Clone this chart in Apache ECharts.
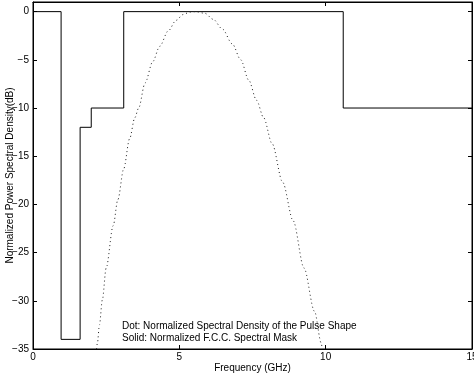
<!DOCTYPE html>
<html>
<head>
<meta charset="utf-8">
<script src="https://cdn.jsdelivr.net/npm/echarts@6/dist/echarts.min.js"></script>
<style>
  html, body { margin: 0; padding: 0; background: #fff; }
  #chart { width: 474px; height: 379px; }
</style>
</head>
<body>
<div id="chart"></div>
<script>
// FCC spectral mask (solid), step edges given as repeated frequencies
const maskFreq  = [0, 0.96, 0.96, 1.61, 1.61, 1.99, 1.99, 3.1, 3.1, 10.6, 10.6, 15]
const maskLevel = [0, 0, -34, -34, -12, -12, -10, -10, 0, 0, -10, -10]

// pulse spectral density (dotted)
const pulseFreq  = [2.17, 2.2, 2.27, 2.37, 2.5, 2.74, 2.9, 3.1, 3.3, 3.48, 3.61, 3.83, 4.09, 4.33, 4.62, 4.89, 5.13, 5.35, 5.55,
                    5.87, 6.16, 6.47, 6.81, 7.1, 7.37, 7.64, 7.88, 8.17, 8.53, 8.89, 9.26, 9.62, 9.85, 9.88]
const pulseLevel = [-35, -34.4, -32.5, -29.9, -26.6, -22.2, -19.5, -16.3, -13.2, -11.0, -10.0, -7.4, -5.2, -3.6, -2.0, -0.9, -0.3, -0.05, 0,
                    -0.17, -0.8, -1.8, -3.35, -5.0, -7.1, -9.2, -11.0, -13.7, -17.7, -21.7, -26.6, -31.1, -34.4, -35]

const xTicks = [0, 5, 10, 15]
const yTicks = [-35, -30, -25, -20, -15, -10, -5, 0]

const notes = [
  'Dot: Normalized Spectral Density of the Pulse Shape',
  'Solid: Normalized F.C.C. Spectral Mask'
]

const font = 'Liberation Sans, Arial, Helvetica, sans-serif'
const zip = (a, b) => a.map((v, i) => [v, b[i]])

const chart = echarts.init(document.getElementById('chart'), null, { renderer: 'canvas' })

const tickStyle = { inside: true, length: 4, lineStyle: { color: '#000', width: 1 } }
const lineStyle = { onZero: false, lineStyle: { color: '#000', width: 1 } }

chart.setOption({
  animation: false,
  backgroundColor: '#fff',
  grid: {
    left: 33, right: 2, top: 2, bottom: 30, outerBoundsMode: 'none', containLabel: false,
    show: true, borderColor: '#000', borderWidth: 1
  },
  xAxis: [{
    type: 'value', min: 0, max: 15, interval: 5,
    name: 'Frequency (GHz)', nameLocation: 'middle', nameGap: 14, nameMoveOverlap: false,
    nameTextStyle: { color: '#000', fontSize: 10, fontFamily: font },
    axisLine: lineStyle, axisTick: tickStyle, splitLine: { show: false },
    axisLabel: {
      color: '#000', fontSize: 10, fontFamily: font, margin: 3,
      formatter: v => xTicks.includes(v) ? String(v) : ''
    }
  }, {
    type: 'value', position: 'top', min: 0, max: 15, interval: 5,
    axisLine: lineStyle, axisTick: tickStyle, axisLabel: { show: false }, splitLine: { show: false }
  }],
  yAxis: [{
    type: 'value', min: -35, max: 1, interval: 5,
    name: 'Normalized Power Spectral Density(dB)', nameLocation: 'middle', nameGap: 18, nameMoveOverlap: false,
    nameTextStyle: { color: '#000', fontSize: 10, fontFamily: font },
    axisLine: lineStyle, axisTick: tickStyle, splitLine: { show: false },
    axisLabel: {
      color: '#000', fontSize: 10, fontFamily: font, margin: 4,
      formatter: v => yTicks.includes(v) ? String(v).replace('-', '\u2212') : ''
    }
  }, {
    type: 'value', position: 'right', min: -35, max: 1, interval: 5,
    axisLine: lineStyle, axisTick: tickStyle, axisLabel: { show: false }, splitLine: { show: false }
  }],
  series: [{
    type: 'line', name: 'mask', data: zip(maskFreq, maskLevel),
    showSymbol: false, lineStyle: { color: '#000', width: 1 }
  }, {
    type: 'line', name: 'pulse', data: zip(pulseFreq, pulseLevel),
    showSymbol: false, smooth: 0.3, smoothMonotone: 'x',
    lineStyle: { color: '#222', width: 1, type: [1, 3] }
  }],
  graphic: notes.map((t, i) => ({
    type: 'text', left: 122, top: 321 + i * 12,
    style: { text: t, fill: '#000', font: '10px ' + font }
  }))
})
</script>
</body>
</html>
